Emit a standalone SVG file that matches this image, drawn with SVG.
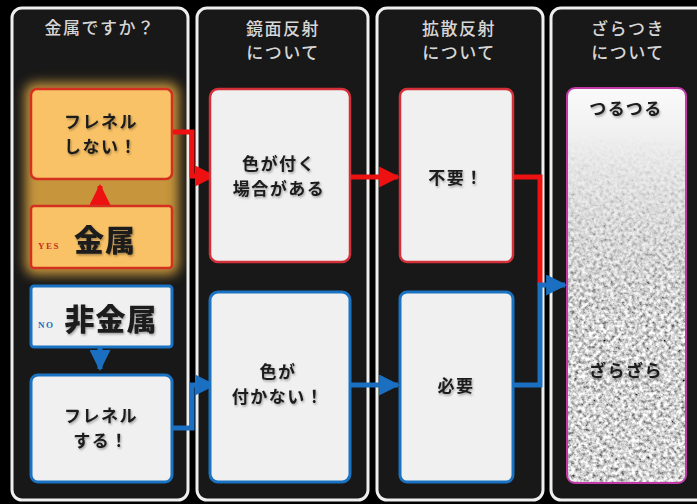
<svg xmlns="http://www.w3.org/2000/svg" width="697" height="504" viewBox="0 0 697 504">
<style>
.col{fill:#181818;stroke:#eeeeee;stroke-width:3}
.hdr{font-family:"Noto Sans CJK JP","Noto Sans",sans-serif;font-size:17px;font-weight:500;fill:#d6d6d6;text-anchor:middle;letter-spacing:1.5px}
.t{font-family:"Noto Sans CJK JP","Noto Sans",sans-serif;font-size:17px;font-weight:700;fill:#1c1c1c;text-anchor:middle;letter-spacing:1.5px}
.big{font-size:30px;font-weight:900;letter-spacing:1px}
.org{fill:#f9c266;stroke:#d4301f;stroke-width:2.5}
.redb{fill:#f0f0f0;stroke:#d4303a;stroke-width:2.5}
.blub{fill:#f0f0f0;stroke:#1a72c2;stroke-width:3}
.rl{fill:none;stroke:#ee1111;stroke-width:5}
.bl{fill:none;stroke:#1a6fc0;stroke-width:5}
.tag{font-family:"Liberation Serif",serif;font-size:9px;font-weight:700;letter-spacing:1.5px}
</style>
<defs>
<filter id="glow" x="-30%" y="-30%" width="160%" height="160%"><feGaussianBlur stdDeviation="6"/></filter>
<filter id="sh" x="-10%" y="-20%" width="120%" height="140%"><feDropShadow dx="1" dy="1.5" stdDeviation="1.2" flood-color="#000" flood-opacity="0.35"/></filter>
<filter id="noise" filterUnits="userSpaceOnUse" x="567" y="88" width="120" height="395">
<feTurbulence type="fractalNoise" baseFrequency="0.28" numOctaves="3" seed="7"/>
<feColorMatrix type="matrix" values="1.7 0 0 0 -0.2  1.7 0 0 0 -0.2  1.7 0 0 0 -0.2  0 0 0 0 1"/>
</filter>
<linearGradient id="fg" x1="0" y1="0" x2="0" y2="1">
<stop offset="0.12" stop-color="#000"/>
<stop offset="0.6" stop-color="#fff"/>
</linearGradient>
<linearGradient id="bgGrad" x1="0" y1="0" x2="0" y2="1">
<stop offset="0" stop-color="#fafafa"/>
<stop offset="0.6" stop-color="#c8c8c8"/>
<stop offset="1" stop-color="#b0b0b0"/>
</linearGradient>
<mask id="fade" maskUnits="userSpaceOnUse" x="567" y="88" width="120" height="395"><rect x="567" y="88" width="120" height="395" fill="url(#fg)"/></mask>
<clipPath id="tclip"><rect x="567" y="88" width="119" height="395" rx="8"/></clipPath>
<marker id="ar" viewBox="0 0 10 10" refX="9" refY="5" markerWidth="4.2" markerHeight="4.2" markerUnits="strokeWidth" orient="auto"><path d="M0,0 L10,5 L0,10 z" fill="#ee1111"/></marker>
<marker id="ab" viewBox="0 0 10 10" refX="9" refY="5" markerWidth="4.2" markerHeight="4.2" markerUnits="strokeWidth" orient="auto"><path d="M0,0 L10,5 L0,10 z" fill="#1a6fc0"/></marker>
</defs>
<rect width="697" height="504" fill="#000"/>

<g id="columns">
<rect class="col" x="12" y="8" width="176" height="492" rx="10"/>
<rect class="col" x="197" y="8" width="171" height="492" rx="10"/>
<rect class="col" x="377" y="8" width="166" height="492" rx="10"/>
<rect class="col" x="551" y="8" width="170" height="492" rx="10"/>
<text class="hdr" x="100" y="34">金属ですか？</text>
<text class="hdr"><tspan x="283" y="35">鏡面反射</tspan><tspan x="283" y="59">について</tspan></text>
<text class="hdr"><tspan x="459" y="35">拡散反射</tspan><tspan x="459" y="59">について</tspan></text>
<text class="hdr"><tspan x="628" y="35">ざらつき</tspan><tspan x="628" y="59">について</tspan></text>
</g>

<rect x="25" y="83" width="154" height="192" rx="10" fill="#f2b545" opacity="0.8" filter="url(#glow)"/>

<g id="connectors">
<path class="rl" d="M100,206 L100,186" marker-end="url(#ar)"/>
<path class="bl" d="M100,347 L100,369" marker-end="url(#ab)"/>
<path class="rl" d="M172,132 L192,132 L192,176 L214,176" marker-end="url(#ar)"/>
<path class="bl" d="M172,428 L192,428 L192,385 L214,385" marker-end="url(#ab)"/>
<path class="rl" d="M350,177 L398,177" marker-end="url(#ar)"/>
<path class="bl" d="M350,385 L398,385" marker-end="url(#ab)"/>
<path class="rl" d="M513,177 L540,177 L540,285"/>
<path class="bl" d="M513,385 L540,385 L540,285 L565,285" marker-end="url(#ab)"/>
</g>

<g id="n-fresnel-no">
<rect class="org" x="31" y="89" width="141" height="90" rx="6"/>
<text class="t" filter="url(#sh)"><tspan x="101" y="128">フレネル</tspan><tspan x="101" y="153">しない！</tspan></text>
</g>
<g id="n-metal">
<rect class="org" x="31" y="206" width="141" height="62" rx="3"/>
<text class="tag" x="38" y="249" fill="#c8301f">YES</text>
<text class="t big" x="105" y="251" filter="url(#sh)">金属</text>
</g>
<g id="n-nonmetal">
<rect class="blub" x="31" y="286" width="141" height="61" rx="3"/>
<text class="tag" x="38" y="328" fill="#1a6fc0">NO</text>
<text class="t big" x="111" y="330" filter="url(#sh)">非金属</text>
</g>
<g id="n-fresnel-yes">
<rect class="blub" x="31" y="375" width="141" height="107" rx="7"/>
<text class="t" filter="url(#sh)"><tspan x="101" y="422">フレネル</tspan><tspan x="101" y="447">する！</tspan></text>
</g>
<g id="n-spec-color">
<rect class="redb" x="210" y="89" width="140" height="173" rx="8"/>
<text class="t" filter="url(#sh)"><tspan x="279" y="170">色が付く</tspan><tspan x="279" y="195">場合がある</tspan></text>
</g>
<g id="n-spec-nocolor">
<rect class="blub" x="210" y="292" width="140" height="190" rx="8"/>
<text class="t" filter="url(#sh)"><tspan x="278" y="378">色が</tspan><tspan x="278" y="403">付かない！</tspan></text>
</g>
<g id="n-diffuse-no">
<rect class="redb" x="400" y="89" width="113" height="173" rx="7"/>
<text class="t" x="456" y="184" filter="url(#sh)">不要！</text>
</g>
<g id="n-diffuse-yes">
<rect class="blub" x="400" y="292" width="113" height="190" rx="7"/>
<text class="t" x="456" y="392" filter="url(#sh)">必要</text>
</g>
<g id="n-roughness">
<g clip-path="url(#tclip)">
<rect x="567" y="88" width="120" height="395" fill="url(#bgGrad)"/>
<rect x="567" y="88" width="120" height="395" filter="url(#noise)" mask="url(#fade)"/>
</g>
<rect x="567" y="88" width="119" height="395" rx="8" fill="none" stroke="#c23aa8" stroke-width="2"/>
<text class="t" x="626" y="115" filter="url(#sh)">つるつる</text>
<text class="t" x="626" y="377" filter="url(#sh)">ざらざら</text>
</g>
</svg>
